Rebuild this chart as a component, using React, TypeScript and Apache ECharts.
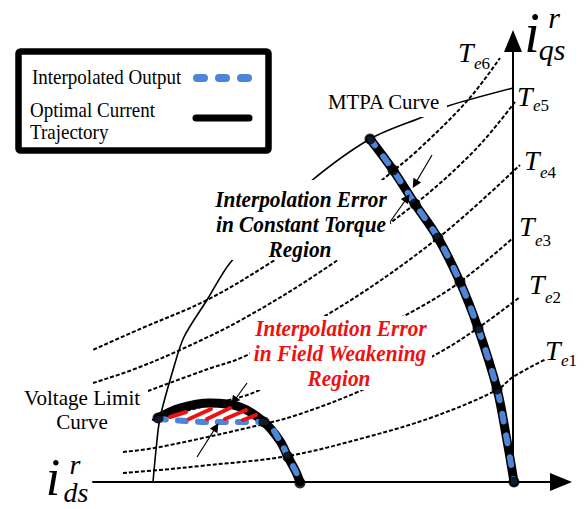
import React, { useEffect, useRef } from 'react';
import * as echarts from 'echarts';

// Torque curves (i_ds, i_qs in arbitrary units)
const TE1 = [[-39.0, 0.9], [-35.3, 1.2], [-31.3, 1.6], [-22.5, 2.6], [-14.6, 4.5], [-8.0, 6.5], [-1.6, 9.2], [0, 10.5], [3.3, 12.3]];
const TE2 = [[-39.0, 3.0], [-35.3, 3.5], [-24.9, 5.8], [-21.3, 6.8], [-15.3, 9.1], [-7.8, 12.7], [-3.5, 15.4], [0.7, 18.5]];
const TE3 = [[-36.1, 6.2], [-35.5, 6.4], [-30.0, 7.8], [-25.8, 9.0], [-17.8, 13.0], [-9.8, 17.2], [-5.3, 20.0], [0, 24.4]];
const TE4 = [[-36.5, 9.1], [-30.5, 11.3], [-27.0, 12.5], [-17.8, 17.2], [-7.5, 24.4], [0.7, 31.7]];
const TE5 = [[-42.0, 9.9], [-38.1, 11.2], [-33.3, 13.2], [-27.0, 16.3], [-19.3, 21.0], [-9.8, 27.8], [-3.8, 33.2], [0.2, 38.0]];
const TE6 = [[-43.6, 12.5], [-37.3, 15.3], [-30.6, 18.2], [-24.3, 21.9], [-18.3, 26.0], [-12.0, 31.1], [-9.5, 33.2], [-4.5, 38.2], [-1.3, 42.4]];

// Thin curve (voltage limit / MTPA guide)
const THIN_CURVE = [[-36.0, 0], [-35.7, 3.2], [-35.3, 6.4], [-34.0, 11.2], [-32.9, 14.5], [-30.6, 18.2], [-28.3, 21.9], [-24.3, 26.0], [-20.3, 30.0], [-14.3, 34.3], [-8.8, 36.6], [-6.5, 37.6], [0, 39.4]];

// Optimal current trajectory
const MTPA_TRAJ = [[-14.3, 34.3], [-12.0, 31.2], [-9.8, 27.8], [-7.5, 24.4], [-5.3, 20.0], [-3.5, 15.4], [-1.6, 9.3], [-0.7, 4.7], [0.1, 0]];
const FW_TRAJ = [[-35.5, 6.4], [-33.3, 7.4], [-30.3, 7.9], [-27.3, 7.5], [-24.9, 6.0], [-23.3, 4.1], [-22.5, 2.5], [-21.7, 1.0], [-21.3, 0]];
// Interpolated output
const MTPA_INTERP = MTPA_TRAJ;
const FW_INTERP = [[-35.5, 6.3], [-30.3, 6.0], [-24.9, 6.0], [-23.3, 4.1], [-22.5, 2.5], [-21.7, 1.0], [-21.3, 0]];

const DOTS = [[-14.3, 34.3], [-12.0, 31.2], [-9.8, 27.8], [-7.5, 24.4], [-5.3, 20.0], [-3.5, 15.4], [-1.6, 9.3], [0.1, 0], [-35.5, 6.4], [-24.9, 6.0], [-22.5, 2.5], [-21.3, -0.1]];

const HATCHES = [
  [[-34.3, 6.5], [-32.7, 7.0]],
  [[-32.4, 6.3], [-30.2, 7.3]],
  [[-30.6, 6.3], [-28.3, 7.4]],
  [[-28.8, 6.3], [-26.7, 7.2]],
  [[-27.0, 6.2], [-25.7, 6.7]],
];

const ARROWS = [
  [[-8.1, 32.7], [-9.8, 29.8]],
  [[-12.3, 26.0], [-10.6, 28.4]],
  [[-26.6, 9.9], [-27.9, 8.1]],
  [[-31.6, 2.5], [-29.7, 5.5]],
];

const TE_LABELS = ['e1', 'e2', 'e3', 'e4', 'e5', 'e6'];

const BLUE = '#4d86d8';
const RED = '#ee1111';
const SERIF = "'Liberation Serif', 'Times New Roman', serif";

export default function App() {
  const ref = useRef<HTMLDivElement>(null);
  useEffect(() => {
    if (!ref.current) return;
    const chart = echarts.init(ref.current, undefined, { renderer: 'svg' });
    const axisCommon = {
      type: 'value' as const,
      axisLine: { show: true, onZero: true, symbol: ['none', 'triangle'], symbolSize: [18, 22], lineStyle: { color: '#000', width: 2 } },
      axisTick: { show: false },
      axisLabel: { show: false },
      splitLine: { show: false },
    };
    const dotted = (data: number[][]) => ({
      type: 'line', data, smooth: 0.35, symbol: 'none', clip: false, silent: true, z: 2,
      lineStyle: { color: '#000', width: 2, type: [4, 2] },
    });
    const teRight = [
      { T: [545, 350], s: [561, 360] },
      { T: [529, 284], s: [545, 297] },
      { T: [519, 226], s: [535, 240] },
      { T: [524, 160], s: [540, 172] },
      { T: [517, 96], s: [533, 105] },
      { T: [458, 52], s: [474, 63] },
    ];
    const teGraphics: any[] = [];
    teRight.forEach((p, i) => {
      teGraphics.push({ type: 'text', x: p.T[0], y: p.T[1], z: 60, style: { text: 'T', font: `italic 28px ${SERIF}`, fill: '#000', textAlign: 'left', textVerticalAlign: 'middle' } });
      teGraphics.push({ type: 'text', x: p.s[0], y: p.s[1], z: 60, style: { text: `{e|${TE_LABELS[i][0]}}{n|${TE_LABELS[i][1]}}`, rich: { e: { font: `italic 17px ${SERIF}`, fill: '#000' }, n: { font: `17px ${SERIF}`, fill: '#000' } }, textAlign: 'left', textVerticalAlign: 'middle' } });
    });
    const txt = (text: string, x: number, y: number, font: string, align: string, sx: number, fill = '#000') => ({
      type: 'text', x, y, scaleX: sx, z: 60,
      style: { text, font, fill, textAlign: align, textVerticalAlign: 'middle' },
    });
    const cover = (x: number, y: number, w: number, h: number) => ({
      type: 'rect', z: 50, shape: { x, y, width: w, height: h }, style: { fill: '#fff' },
    });
    const option: any = {
      animation: false,
      backgroundColor: '#fff',
      grid: { left: 93, right: 27, top: 41, bottom: 27 },
      xAxis: { ...axisCommon, min: -42, max: 4.8 },
      yAxis: { ...axisCommon, min: 0, max: 44.1 },
      series: [
        dotted(TE1), dotted(TE2), dotted(TE3), dotted(TE4), dotted(TE5), dotted(TE6),
        { type: 'line', data: THIN_CURVE, smooth: 0.3, symbol: 'none', clip: false, silent: true, z: 2, lineStyle: { color: '#000', width: 1.6 } },
        { type: 'line', data: MTPA_TRAJ, smooth: 0.35, symbol: 'none', clip: false, z: 3, lineStyle: { color: '#000', width: 9, cap: 'round' } },
        { type: 'line', data: FW_TRAJ, smooth: 0.35, symbol: 'none', clip: false, z: 3, lineStyle: { color: '#000', width: 9, cap: 'round' } },
        { type: 'line', data: MTPA_INTERP, smooth: 0.35, symbol: 'none', clip: false, z: 4, lineStyle: { color: BLUE, width: 6, type: [8, 14], cap: 'round' } },
        { type: 'line', data: FW_INTERP, smooth: 0.3, symbol: 'none', clip: false, z: 4, lineStyle: { color: BLUE, width: 6, type: [8, 12], cap: 'round' } },
        { type: 'lines', coordinateSystem: 'cartesian2d', z: 5, silent: true, data: HATCHES.map((c) => ({ coords: c })), lineStyle: { color: RED, width: 4, opacity: 1, cap: 'round' } },
        { type: 'scatter', data: DOTS, symbolSize: 11, clip: false, z: 6, itemStyle: { color: '#000' } },
        { type: 'lines', coordinateSystem: 'cartesian2d', z: 7, silent: true, data: ARROWS.map((c) => ({ coords: c })), symbol: ['none', 'triangle'], symbolSize: 9, lineStyle: { color: '#000', width: 1.2, opacity: 1 } },
      ],
      graphic: [
        // legend
        { type: 'rect', z: 40, shape: { x: 18.5, y: 51.5, width: 250, height: 99, r: 2 }, style: { fill: '#fff', stroke: '#000', lineWidth: 6.5 } },
        txt('Interpolated Output', 32, 77, `20px ${SERIF}`, 'left', 0.95),
        txt('Optimal Current', 30, 110, `20px ${SERIF}`, 'left', 0.95),
        txt('Trajectory', 30, 132, `20px ${SERIF}`, 'left', 0.95),
        { type: 'line', z: 60, shape: { x1: 197, y1: 78, x2: 248, y2: 78 }, style: { stroke: BLUE, lineWidth: 8, lineCap: 'round', lineDash: [7, 15] } },
        { type: 'line', z: 60, shape: { x1: 196, y1: 118, x2: 249, y2: 118 }, style: { stroke: '#000', lineWidth: 7, lineCap: 'round' } },
        // covers
        cover(324, 90, 123, 27),
        cover(18, 386, 130, 46),
        cover(213, 180, 177, 80),
        cover(250, 316, 182, 74),
        // labels
        txt('MTPA Curve', 328, 102, `22px ${SERIF}`, 'left', 0.95),
        txt('Voltage Limit', 82, 398, `22px ${SERIF}`, 'center', 0.96),
        txt('Curve', 82, 422, `22px ${SERIF}`, 'center', 0.96),
        txt('Interpolation Error', 301, 199, `italic bold 24px ${SERIF}`, 'center', 0.89),
        txt('in Constant Torque', 301, 224, `italic bold 24px ${SERIF}`, 'center', 0.89),
        txt('Region', 300, 249, `italic bold 24px ${SERIF}`, 'center', 0.89),
        txt('Interpolation Error', 341, 328, `italic bold 24px ${SERIF}`, 'center', 0.89, RED),
        txt('in Field Weakening', 340, 353, `italic bold 24px ${SERIF}`, 'center', 0.89, RED),
        txt('Region', 339, 378, `italic bold 24px ${SERIF}`, 'center', 0.89, RED),
        // axis names
        txt('i', 532, 33, `italic 56px ${SERIF}`, 'center', 1),
        txt('r', 554, 17, `italic 30px ${SERIF}`, 'center', 1),
        txt('qs', 552, 49, `italic 30px ${SERIF}`, 'center', 1),
        txt('i', 53, 477, `italic 52px ${SERIF}`, 'center', 1),
        txt('r', 75, 464, `italic 28px ${SERIF}`, 'center', 1),
        txt('ds', 76, 492, `italic 28px ${SERIF}`, 'center', 1),
        ...teGraphics,
      ],
    };
    chart.setOption(option);
    return () => chart.dispose();
  }, []);
  return <div ref={ref} style={{ position: 'fixed', left: 0, top: 0, width: 588, height: 509, background: '#fff' }} />;
}
